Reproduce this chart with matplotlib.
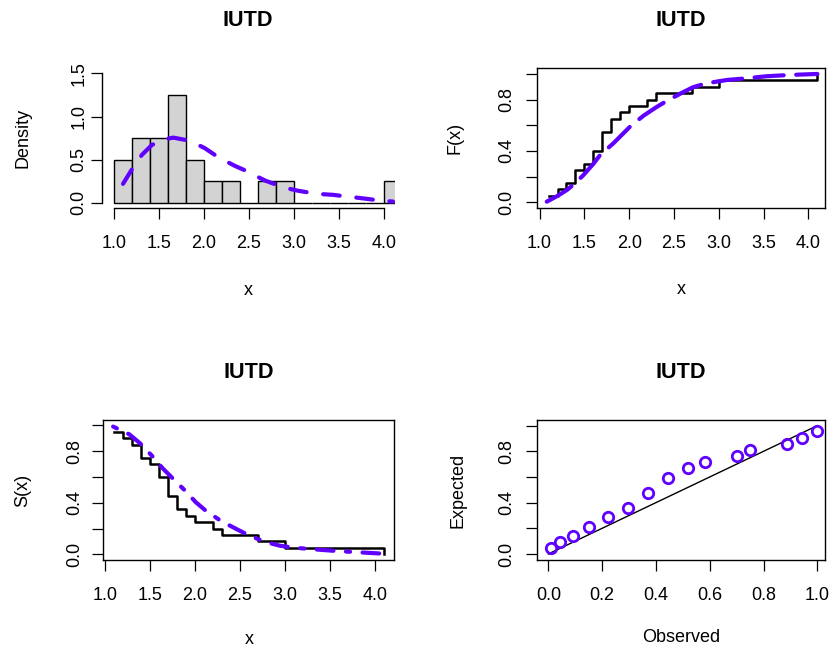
import numpy as np
import pandas as pd
import matplotlib
matplotlib.use("Agg")
import matplotlib.pyplot as plt

plt.rcParams['font.family'] = ['Liberation Sans', 'DejaVu Sans']

# ---------------- data ----------------
data = [1.1, 1.2, 1.3, 1.4, 1.4, 1.5, 1.6, 1.6, 1.7, 1.7, 1.7, 1.8, 1.8,
        1.9, 2.0, 2.2, 2.3, 2.7, 3.0, 4.1]
breaks = [1.0, 1.2, 1.4, 1.6, 1.8, 2.0, 2.2, 2.4, 2.6, 2.8, 3.0, 3.2, 3.4,
          3.6, 3.8, 4.0, 4.2]

# fitted density
dens_x = [1.10, 1.20, 1.31, 1.42, 1.55, 1.66, 1.79, 1.90, 2.01, 2.12, 2.23,
          2.34, 2.47, 2.58, 2.68, 2.83, 2.94, 3.05, 3.21, 3.32, 3.43, 3.59,
          3.70, 3.81, 3.98, 4.10]
dens_y = [0.22, 0.39, 0.556, 0.67, 0.735, 0.756, 0.73, 0.69, 0.633, 0.556,
          0.49, 0.43, 0.37, 0.31, 0.258, 0.20, 0.165, 0.139, 0.112, 0.10,
          0.093, 0.073, 0.06, 0.046, 0.023, 0.015]

# fitted CDF
cdf_x = [1.08, 1.20, 1.305, 1.40, 1.49, 1.60, 1.676, 1.824, 2.01, 2.16,
         2.30, 2.42, 2.58, 2.71, 2.86, 3.09, 3.31, 3.53, 3.79, 4.10]
cdf_y = [0.005, 0.05, 0.096, 0.15, 0.213, 0.30, 0.369, 0.46, 0.59, 0.675,
         0.74, 0.79, 0.85, 0.896, 0.927, 0.953, 0.966, 0.982, 0.992, 1.0]

# fitted survival
surv_x = [1.09, 1.27, 1.39, 1.52, 1.64, 1.75, 1.88, 2.01, 2.12, 2.29, 2.46,
          2.59, 2.77, 2.94, 3.09, 3.28, 3.53, 3.81, 4.09]
surv_y = [0.99, 0.93, 0.86, 0.765, 0.667, 0.59, 0.50, 0.403, 0.338, 0.258,
          0.196, 0.15, 0.098, 0.067, 0.052, 0.041, 0.028, 0.016, 0.005]

# P-P plot points
pp_obs = [0.009, 0.043, 0.09, 0.15, 0.22, 0.295, 0.37, 0.445, 0.518, 0.584,
          0.70, 0.748, 0.886, 0.942, 1.0]
pp_exp = [0.044, 0.09, 0.143, 0.213, 0.286, 0.356, 0.478, 0.595, 0.668,
          0.717, 0.764, 0.81, 0.86, 0.906, 0.956]
ref_line = [0.0, 1.0]

title = "IUTD"
x_ticks = [1.0, 1.5, 2.0, 2.5, 3.0, 3.5, 4.0]
hist_yticks = [0.0, 0.5, 1.0, 1.5]
prob_ticks = [0.0, 0.2, 0.4, 0.6, 0.8, 1.0]
prob_labels = ["0.0", "", "0.4", "", "0.8", ""]
pp_xlabels = ["0.0", "0.2", "0.4", "0.6", "0.8", "1.0"]

# ---------------- derived (library computation) ----------------
n = len(data)
counts = pd.cut(pd.Series(data), bins=breaks, right=True).value_counts(sort=False).values
widths = np.diff(breaks)
density = counts / (n * widths)
ux, uc = np.unique(np.array(data), return_counts=True)
ecdf = np.cumsum(uc) / n
surv = 1 - ecdf

# ---------------- figure ----------------
W, H = 831, 650
fig = plt.figure(figsize=(W / 100, H / 100), dpi=100)

def rect(l, r, t, b):
    return [l / W, 1 - b / H, (r - l) / W, (b - t) / H]

PURPLE = "#6000FF"
FS = 13
FS_T = 15.6
TICKLEN = 7.8

def style(ax, ypad, xpad=11.5):
    ax.tick_params(axis='both', direction='out', length=TICKLEN, width=0.9,
                   labelsize=FS, colors='black')
    ax.tick_params(axis='y', labelrotation=90, pad=ypad)
    ax.tick_params(axis='x', pad=xpad)
    for lab in ax.get_yticklabels():
        lab.set_va('center')
    for s in ax.spines.values():
        s.set_linewidth(1.0)

def labels(ax, xl, yl, xlab_px, ylab_px, left, top, bottom, width, title_px):
    hgt = bottom - top
    ax.set_xlabel(xl, fontsize=FS)
    ax.set_ylabel(yl, fontsize=FS)
    ax.xaxis.label.set_va('center')
    ax.yaxis.label.set_va('center')
    ax.xaxis.set_label_coords(0.5, -(xlab_px - bottom) / hgt)
    ax.yaxis.set_label_coords((ylab_px - left) / width, 0.5)
    ax.set_title(title, fontsize=FS_T, fontweight='bold', pad=0,
                 y=1 + (top - title_px) / hgt, va='center')

# ---- top-left: histogram ----
L, R, T, B = 102, 394.5, 68.3, 208
ax1 = fig.add_axes(rect(L, R, T, B))
ax1.bar(breaks[:-1], density, width=widths, align='edge', color='#D3D3D3',
        edgecolor='black', linewidth=1.0)
ax1.plot(dens_x, dens_y, color=PURPLE, lw=3.0, linestyle=(0, (4, 4)),
         dash_capstyle='round', solid_capstyle='round')
ax1.set_xlim(1 - 12 / 90, 1 + (R - 114) / 90)
ax1.set_ylim(-0.06, 1.56)
ax1.set_xticks(x_ticks)
ax1.set_xticklabels([f"{v:.1f}" for v in x_ticks])
ax1.set_yticks(hist_yticks)
ax1.set_yticklabels([f"{v:.1f}" for v in hist_yticks])
ax1.spines['top'].set_visible(False)
ax1.spines['right'].set_visible(False)
ax1.spines['left'].set_bounds(0, 1.5)
ax1.spines['bottom'].set_bounds(1.0, 4.0)
style(ax1, ypad=2.5)
labels(ax1, "x", "Density", 290, 23, L, T, B, R - L, 20)

# ---- top-right: CDF ----
L, R, T, B = 537, 825, 68.3, 207.7
ax2 = fig.add_axes(rect(L, R, T, B))
ax2.step(ux, ecdf, where='post', color='black', lw=1.8)
ax2.plot(cdf_x, cdf_y, color=PURPLE, lw=3.0, linestyle=(0, (7, 3)),
         dash_capstyle='round')
ax2.set_xlim(0.971, 4.185)
ax2.set_ylim(-0.042, 1.044)
ax2.set_xticks(x_ticks)
ax2.set_xticklabels([f"{v:.1f}" for v in x_ticks])
ax2.set_yticks(prob_ticks)
ax2.set_yticklabels(prob_labels)
style(ax2, ypad=8.0)
labels(ax2, "x", "F(x)", 290, 455, L, T, B, R - L, 20)

# ---- bottom-left: survival ----
L, R, T, B = 103.3, 394.3, 420, 560
ax3 = fig.add_axes(rect(L, R, T, B))
ax3.step(ux, surv, where='post', color='black', lw=1.8)
ax3.plot(surv_x, surv_y, color=PURPLE, lw=3.0, linestyle=(0, (1, 3, 4, 3)),
         dash_capstyle='round')
ax3.set_xlim(0.981, 4.214)
ax3.set_ylim(-0.044, 1.041)
ax3.set_xticks(x_ticks)
ax3.set_xticklabels([f"{v:.1f}" for v in x_ticks])
ax3.set_yticks(prob_ticks)
ax3.set_yticklabels(prob_labels)
style(ax3, ypad=6.5)
labels(ax3, "x", "S(x)", 640, 23, L, T, B, R - L, 373)

# ---- bottom-right: P-P plot ----
L, R, T, B = 537.3, 825, 420, 560
ax4 = fig.add_axes(rect(L, R, T, B))
ax4.plot(ref_line, ref_line, color='black', lw=1.0)
ax4.plot(pp_obs, pp_exp, linestyle='none', marker='o', markersize=7.5,
         markerfacecolor='none', markeredgecolor=PURPLE, markeredgewidth=2.0)
ax4.set_xlim(-0.041, 1.0286)
ax4.set_ylim(-0.047, 1.044)
ax4.set_xticks(prob_ticks)
ax4.set_xticklabels(pp_xlabels)
ax4.set_yticks(prob_ticks)
ax4.set_yticklabels(prob_labels)
style(ax4, ypad=8.0)
labels(ax4, "Observed", "Expected", 638, 458, L, T, B, R - L, 373)

fig.savefig("out.png", dpi=100, facecolor='white')
